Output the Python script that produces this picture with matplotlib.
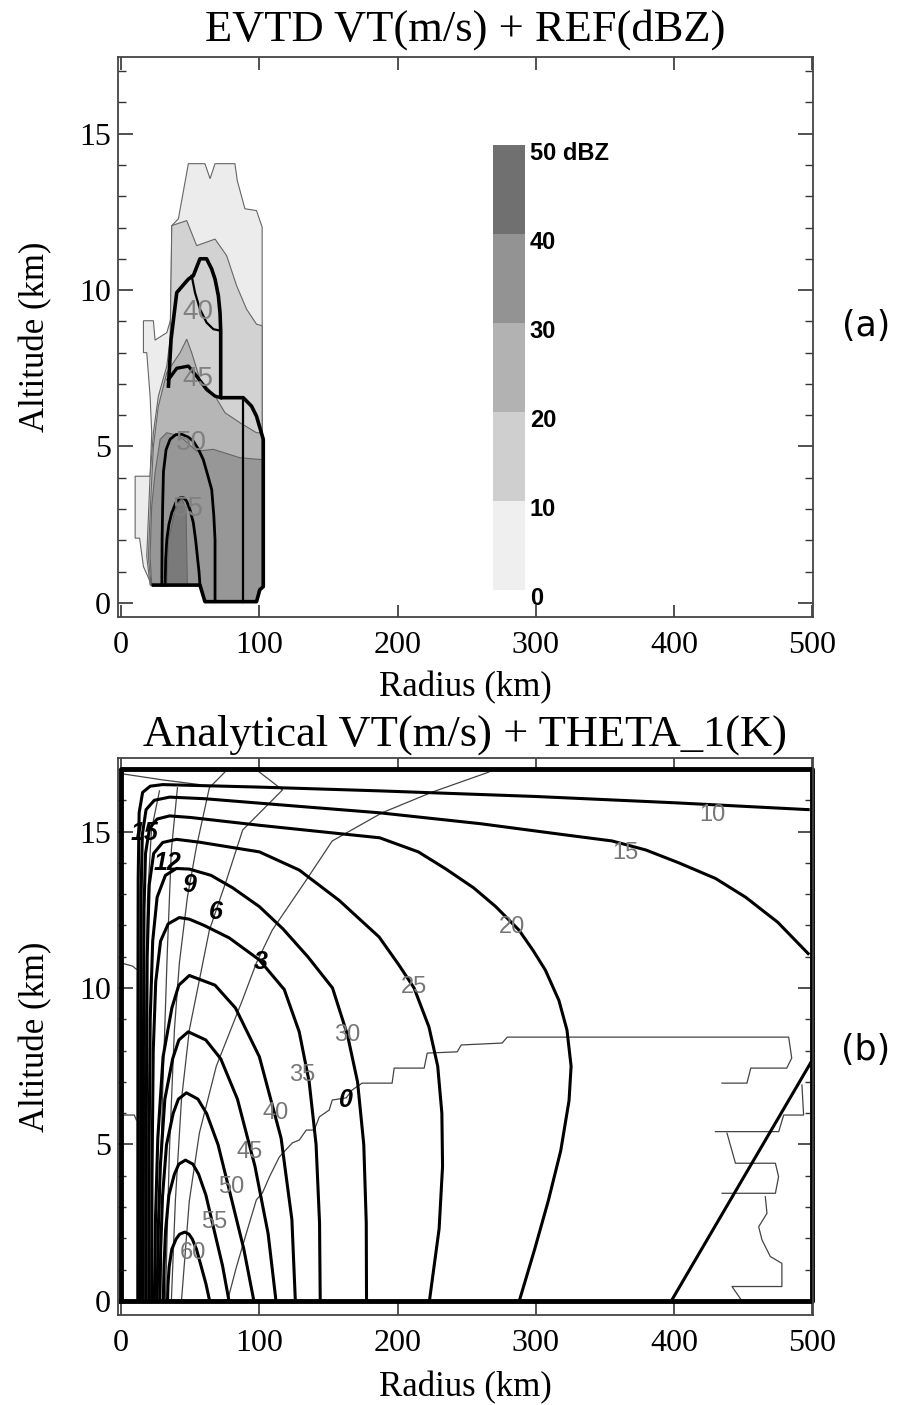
import matplotlib
matplotlib.use("Agg")
import matplotlib.pyplot as plt
from matplotlib.ticker import MultipleLocator

# ---------------- panel (a): EVTD reflectivity shading (radius km, altitude km)
ref_levels = [0, 10, 20, 30, 40, 50]
ref_grays = ["#ececec", "#d2d2d2", "#b6b6b6", "#979797", "#7a7a7a"]
bar_grays = ["#efefef", "#cfcfcf", "#b2b2b2", "#939393", "#707070"]
bar_labels = ["0", "10", "20", "30", "40", "50 dBZ"]

ref00 = [(48.6, 14.04), (60.6, 14.04), (64.3, 13.56), (67.9, 14.04), (82.3, 14.04),
         (84.0, 13.5), (89.5, 12.6), (97.9, 12.54), (102.0, 12.01), (102.0, 0.52),
         (99.1, 0.42), (97.9, 0.04), (60.6, 0.04), (57.0, 0.57), (22.1, 0.57),
         (16.1, 1.16), (13.3, 2.07), (10.1, 2.07), (10.1, 4.05), (20.9, 4.05),
         (22.1, 5.44), (20.9, 6.61), (18.5, 8.0), (16.1, 8.0), (16.1, 9.02),
         (23.3, 9.02), (24.5, 8.4), (33.0, 8.64), (35.9, 9.07), (36.6, 12.06), (41.4, 12.28)]
ref10 = [(36.6, 12.06), (47.4, 12.22), (54.6, 11.42), (67.9, 11.63), (76.3, 11.1),
         (83.5, 10.14), (90.7, 9.39), (97.9, 8.91), (102.0, 8.86), (102.0, 0.52),
         (99.1, 0.42), (97.9, 0.04), (60.6, 0.04), (57.0, 0.57), (20.9, 0.57),
         (18.5, 1.49), (20.9, 4.05), (23.3, 5.44), (26.9, 6.61), (33.0, 7.57), (35.4, 8.43)]
ref20 = [(26.9, 6.29), (33.0, 7.36), (42.6, 8.0), (47.4, 8.43), (51.0, 8.0),
         (57.0, 7.14), (67.9, 6.61), (75.1, 6.08), (85.9, 5.76), (97.9, 5.44),
         (102.0, 5.44), (102.0, 0.52), (99.1, 0.42), (97.9, 0.04), (60.6, 0.04),
         (57.0, 0.57), (21.5, 0.57), (19.7, 1.49), (21.5, 3.41), (23.3, 5.0)]
ref30 = [(24.5, 4.16), (28.2, 5.23), (33.0, 5.44), (42.6, 5.33), (54.6, 4.85),
         (66.7, 4.91), (85.9, 4.64), (102.0, 4.58), (102.0, 0.52), (99.1, 0.42),
         (97.9, 0.04), (60.6, 0.04), (57.0, 0.57), (22.1, 0.57), (20.9, 1.49), (22.1, 3.09)]
ref40 = [(33.0, 0.57), (34.2, 2.02), (39.0, 2.98), (43.8, 3.36), (46.9, 2.98), (47.9, 0.57)]
ref_polys = [ref00, ref10, ref20, ref30, ref40]

# EVTD VT contours
evtd_edge = [(34.2, 6.93), (36.1, 8.43), (40.2, 9.92), (48.6, 10.35), (52.2, 10.46),
             (57.0, 11.0), (61.8, 11.0), (65.5, 10.67), (67.9, 10.35), (70.3, 9.82),
             (71.5, 9.28), (72.0, 8.7), (72.0, 6.56), (88.3, 6.56), (94.3, 6.29),
             (97.9, 5.97), (102.8, 5.23), (102.8, 0.52), (100.3, 0.42), (97.9, 0.04),
             (60.6, 0.04), (57.0, 0.57), (23.3, 0.57)]
evtd40 = [(51.0, 10.46), (53.4, 9.92), (57.0, 9.39), (61.8, 8.96), (66.7, 8.75), (72.0, 8.7)]
evtd45 = [(34.2, 7.14), (40.2, 7.5), (48.6, 7.57), (54.6, 7.25), (61.8, 6.82), (67.9, 6.61), (72.0, 6.56)]
evtd50 = [(29.4, 0.57), (29.6, 2.0), (30.0, 3.09), (30.6, 4.2), (32.5, 4.9), (35.4, 5.23),
          (39.5, 5.38), (43.8, 5.39), (48.5, 5.3), (52.2, 5.17), (56.0, 4.9), (59.4, 4.58),
          (62.5, 4.1), (65.5, 3.62), (67.0, 2.8), (67.9, 2.02), (67.9, 0.04)]
evtd55 = [(31.8, 0.57), (32.2, 1.4), (33.0, 2.02), (34.5, 2.5), (36.6, 2.88), (39.5, 3.2),
          (42.6, 3.36), (45.2, 3.36), (47.4, 3.25), (50.0, 2.95), (52.2, 2.56), (53.9, 2.0),
          (55.1, 1.49), (56.3, 1.0), (57.0, 0.57)]
evtd_inner = [(87.8, 6.5), (87.8, 0.04)]
evtd_labels = ["40", "45", "50", "55"]
evtd_label_r = [55.6, 55.6, 51.0, 48.5]
evtd_label_z = [9.3, 7.15, 5.1, 3.0]

# ---------------- panel (b): analytical VT contours (radius km, altitude km)
vt10 = [(12, 0), (12.1, 9), (12.3, 13.5), (13, 15.6), (15.5, 16.25), (21, 16.45), (30, 16.5),
        (100, 16.42), (186.6, 16.3), (300, 16.12), (400, 15.92), (497, 15.7)]
vt15 = [(14, 0), (14.1, 9), (14.4, 13), (15.3, 14.9), (18, 15.7), (24, 16.0), (35, 16.1),
        (60, 16.05), (130, 15.8), (186.6, 15.6), (260, 15.25), (320, 14.9), (355, 14.7),
        (379.6, 14.41), (403.4, 14.0), (430, 13.5), (451.8, 12.9), (475, 12.1), (497, 11.1)]
vt20 = [(16, 0), (16.1, 8), (16.5, 12.5), (17.6, 14.3), (20.5, 15.1), (26, 15.4), (35, 15.5),
        (50, 15.45), (100, 15.2), (150, 14.97), (187, 14.8), (215, 14.35), (235, 13.8),
        (255, 13.2), (271, 12.6), (287.8, 11.85), (298, 11.2), (306.9, 10.57), (316.7, 9.6),
        (322.5, 8.66), (325.5, 7.5), (324, 6.4), (318, 4.8), (309, 3.2), (299, 1.63), (288, 0)]
vt25 = [(18, 0), (18.2, 6), (18.8, 11), (20.3, 13.3), (23.5, 14.3), (30, 14.65), (40, 14.75),
        (56.6, 14.66), (100, 14.35), (128.8, 13.77), (157.7, 12.8), (186.6, 11.63), (201, 10.73),
        (211.9, 10.0), (222.7, 8.75), (229, 7.5), (232, 6.0), (232.5, 4.3), (230, 2.3), (223, 0)]
vt30 = [(20, 0), (20.2, 5), (21, 9), (22.8, 11.5), (26, 12.9), (32, 13.6), (40, 13.82),
        (49.3, 13.8), (65, 13.6), (80.7, 13.2), (100, 12.6), (116.8, 11.9), (135, 11.0),
        (152.9, 10.0), (163.7, 8.5), (171, 7.0), (175.5, 5.0), (177.3, 2.5), (177.5, 0)]
vt35 = [(22, 0), (22.3, 4), (23.2, 8), (25, 10.2), (28.5, 11.5), (34, 12.05), (42, 12.25),
        (49.3, 12.2), (60, 12.0), (78.2, 11.6), (99.9, 10.9), (118, 9.95), (128.8, 8.6),
        (136, 7.0), (141, 5.0), (143.5, 2.5), (144, 0)]
vt40 = [(24, 0), (24.8, 2.6), (26.5, 5.2), (30.3, 7.8), (36.65, 9.36), (41.7, 10.09), (49.3, 10.4),
        (67.9, 10.09), (82.7, 9.36), (100, 7.8), (115.7, 5.2), (123.5, 2.6), (126, 0)]
vt45 = [(26, 0), (26.7, 2.15), (28.3, 4.3), (31.6, 6.45), (37.25, 7.74), (41.75, 8.34), (48.5, 8.6),
        (61.2, 8.34), (72, 7.74), (84.1, 6.45), (96.8, 4.3), (106.3, 2.15), (112, 0)]
vt50 = [(28, 0), (28.6, 1.66), (29.9, 3.33), (32.8, 4.99), (37.6, 5.99), (41.4, 6.45), (47.2, 6.65),
        (55.5, 6.45), (61.8, 5.99), (70.1, 4.99), (79.4, 3.33), (88.7, 1.66), (96, 0)]
vt55 = [(30.5, 0), (31, 1.13), (32.1, 2.25), (34.5, 3.38), (38.5, 4.05), (41.7, 4.37), (46.5, 4.5),
        (51.9, 4.37), (56, 4.05), (61.3, 3.38), (67.3, 2.25), (73.3, 1.13), (78, 0)]
vt60 = [(33.5, 0), (33.9, 0.55), (34.75, 1.1), (36.6, 1.65), (39.75, 1.98), (42.25, 2.13), (46, 2.2),
        (49.1, 2.13), (51.4, 1.98), (54.5, 1.65), (57.9, 1.1), (61.3, 0.55), (64, 0)]
vt_far = [(398, 0), (500, 7.7)]
vt_lines = [vt10, vt15, vt20, vt25, vt30, vt35, vt40, vt45, vt50, vt55, vt60, vt_far]
vt_labels = ["10", "15", "20", "25", "30", "35", "40", "45", "50", "55", "60"]
vt_label_r = [427.4, 364.9, 283.0, 211.9, 163.7, 131.2, 112.0, 92.7, 79.5, 67.4, 51.7]
vt_label_z = [15.53, 14.3, 11.96, 10.04, 8.5, 7.22, 6.0, 4.77, 3.65, 2.53, 1.52]

# THETA_1 perturbation contours
th0 = [(76.9, 0), (83.4, 1.09), (90.6, 2.17), (97.8, 3.23), (102.2, 3.45), (107.2, 3.96),
       (114.4, 4.6), (123.8, 5.05), (128.8, 5.14), (133.9, 5.46), (139.7, 5.46), (143.3, 5.88),
       (150.5, 6.1), (152.7, 6.42), (162.8, 6.49), (167.1, 6.74), (174.3, 6.96), (196, 6.96),
       (197.5, 7.44), (219.2, 7.44), (221.4, 7.92), (243.1, 7.96), (246, 8.18), (275.6, 8.24),
       (279.3, 8.43), (482.9, 8.43), (485.1, 7.76), (481.5, 7.44), (455.5, 7.44), (452.7, 6.96),
       (434.6, 6.96)]
th0_b = [(492.5, 6.9), (493.7, 5.94), (479.3, 5.94), (475.7, 5.41), (429.9, 5.41)]
th0_c = [(438.3, 5.36), (444.4, 4.4), (473.3, 4.4), (475.6, 3.97), (473.3, 3.44), (434.7, 3.44)]
th0_d = [(466, 3.33), (467.2, 2.8), (461.2, 2.37), (463.6, 1.95), (469.6, 1.42), (478, 1.2),
         (478, 0.46), (441.9, 0.46), (449.1, 0)]
th0_e = [(0, 10.8), (8.2, 10.7), (11, 10.6)]
th0_f = [(0, 5.94), (9.5, 5.94), (11, 5.78)]
th3 = [(266, 16.9), (225, 16.26), (188.8, 15.6), (152.7, 14.7), (133.9, 13.45), (109.3, 11.85),
       (97.8, 10.8), (87.6, 9.6), (68.8, 7.5), (56.6, 5.37), (49.3, 3.2), (43.6, 0)]
th6 = [(100, 16.9), (116.7, 16.33), (87.9, 15.05), (76.2, 13.45), (63.8, 11.85), (56.6, 10.26),
       (49.3, 8.66), (43.6, 6.42), (39.2, 3.2), (36.3, 0)]
th9 = [(75, 16.9), (63.8, 16.4), (54.4, 14.5), (47.9, 12.9), (42.1, 10.8), (38.5, 8.66),
       (34.9, 4.8), (32, 0)]
th12 = [(40.7, 16.4), (36.3, 14.4), (33.4, 11.2), (29.8, 6.4), (26.2, 0)]
th15 = [(27.7, 16.3), (21.9, 15.05), (19, 12.8), (16.8, 6.4), (15.4, 0)]
th_top = [(0, 16.85), (30, 16.65), (56.6, 16.5)]
th_lines = [th0, th0_b, th0_c, th0_d, th0_e, th0_f, th3, th6, th9, th12, th15, th_top]
th_labels = ["15", "12", "9", "6", "3", "0"]
th_label_r = [16.8, 33.7, 49.3, 68.6, 101.2, 162.6]
th_label_z = [14.94, 13.98, 13.29, 12.44, 10.84, 6.42]

domain_r = [0, 500, 500, 0, 0]
domain_z = [0, 0, 17, 17, 0]

serif = "Liberation Serif"
W, H = 902, 1405
fig = plt.figure(figsize=(W / 100, H / 100), dpi=100)
ax1 = fig.add_axes([118 / W, 1 - 617 / H, 695 / W, 560 / H])
ax2 = fig.add_axes([118 / W, 1 - 1315 / H, 695 / W, 557 / H])


def style_axes(ax, ylim, xlab_y):
    ax.set_xlim(-2.3, 500.5)
    ax.set_ylim(*ylim)
    ax.xaxis.set_major_locator(MultipleLocator(100))
    ax.yaxis.set_major_locator(MultipleLocator(5))
    ax.yaxis.set_minor_locator(MultipleLocator(1))
    ax.tick_params(which="both", direction="in", top=True, right=True, color="#333")
    ax.tick_params(which="major", length=11, width=1.2)
    ax.tick_params(which="minor", length=6, width=1.0)
    ax.tick_params(axis="x", which="major", length=9, pad=10)
    ax.tick_params(axis="y", pad=5)
    for lab in ax.get_xticklabels() + ax.get_yticklabels():
        lab.set_family(serif)
        lab.set_fontsize(23)
    for sp in ax.spines.values():
        sp.set_linewidth(1.3)
        sp.set_color("#444")
    ax.set_xlabel("Radius (km)", family=serif, fontsize=25)
    ax.set_ylabel("Altitude (km)", family=serif, fontsize=25)
    ax.xaxis.set_label_coords(0.5, xlab_y)
    ax.yaxis.set_label_coords(-0.094, 0.5)


# ---- panel (a)
style_axes(ax1, (-0.45, 17.45), -0.096)
for poly, gray in zip(ref_polys, ref_grays):
    rr, zz = zip(*poly)
    ax1.fill(rr, zz, facecolor=gray, edgecolor="#666", linewidth=0.8)
for line, lw in [(evtd_edge, 2.6), (evtd45, 2.4), (evtd40, 1.6), (evtd50, 2.0),
                 (evtd55, 2.0), (evtd_inner, 1.6)]:
    rr, zz = zip(*line)
    ax1.plot(rr, zz, color="black", linewidth=lw, solid_joinstyle="round")
for txt, r, z in zip(evtd_labels, evtd_label_r, evtd_label_z):
    ax1.text(r, z, txt, color="#808080", fontsize=20, family="Liberation Sans",
             ha="center", va="center")

cax = fig.add_axes([493 / W, 1 - 590 / H, 32 / W, 445 / H])
for lo, hi, gray in zip(ref_levels[:-1], ref_levels[1:], bar_grays):
    cax.bar(0, hi - lo, bottom=lo, width=1, color=gray)
cax.set_xlim(-0.5, 0.5)
cax.set_ylim(ref_levels[0], ref_levels[-1])
cax.axis("off")
for lev, txt in zip(ref_levels, bar_labels):
    cax.text(1.15, lev - 0.9, txt, transform=cax.get_yaxis_transform(),
             fontsize=17, fontweight="bold", family="Liberation Sans", va="center", ha="left")

fig.text(465 / W, 1 - 30 / H, "EVTD VT(m/s) + REF(dBZ)", family=serif, fontsize=32,
         ha="center", va="center")
fig.text(866 / W, 1 - 326 / H, "(a)", fontsize=25, ha="center", va="center")

# ---- panel (b)
style_axes(ax2, (-0.45, 17.35), -0.1)
for line in th_lines:
    rr, zz = zip(*line)
    ax2.plot(rr, zz, color="#444", linewidth=0.9)
for line in vt_lines:
    rr, zz = zip(*line)
    ax2.plot(rr, zz, color="black", linewidth=2.2, solid_joinstyle="round")
ax2.plot(domain_r, domain_z, color="black", linewidth=3.5, clip_on=False)
for txt, r, z in zip(vt_labels, vt_label_r, vt_label_z):
    ax2.text(r, z, txt, color="#777", fontsize=17, family="Liberation Sans",
             ha="center", va="center")
for txt, r, z in zip(th_labels, th_label_r, th_label_z):
    ax2.text(r, z, txt, color="black", fontsize=18, family="Liberation Sans",
             fontweight="bold", fontstyle="italic", ha="center", va="center")

fig.text(465 / W, 1 - 735 / H, "Analytical VT(m/s) + THETA_1(K)", family=serif, fontsize=32,
         ha="center", va="center")
fig.text(866 / W, 1 - 1050 / H, "(b)", fontsize=25, ha="center", va="center")

fig.savefig("out.png", dpi=100)
